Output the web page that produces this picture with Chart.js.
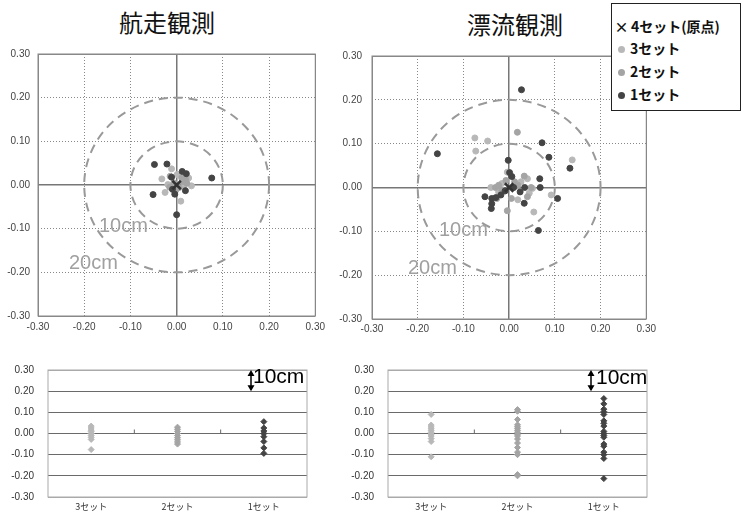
<!DOCTYPE html>
<html>
<head>
<meta charset="utf-8">
<script src="https://cdn.jsdelivr.net/npm/chart.js@4/dist/chart.umd.min.js"></script>
<style>
body { margin: 0; background: #fff; }
#wrap { position: relative; width: 743px; height: 517px; overflow: hidden; font-family: "Liberation Sans", Arial, sans-serif; }
canvas { position: absolute; }
.t { position: absolute; white-space: nowrap; line-height: 1; }
.title { font-family: "Noto Sans CJK JP", sans-serif; font-size: 24px; width: 140px; text-align: center; color: #111; }
.cm { font-size: 20px; color: #a0a0a0; }
.cm2 { font-size: 21px; color: #000; }
#legend { position: absolute; left: 611px; top: 3px; width: 128px; height: 106px; border: 1.5px solid #222; background: #fff; }
#legend .row { position: absolute; left: 0; height: 16px; line-height: 16px; font-family: "Noto Sans CJK JP", sans-serif; font-weight: bold; font-size: 14px; color: #111; white-space: nowrap; }
#legend .mk { display: inline-block; width: 7px; height: 7px; border-radius: 50%; margin: 0 5px 1px 6px; vertical-align: middle; }
</style>
</head>
<body>
<div id="wrap">
  <div class="t title" style="left:97px;top:10px">航走観測</div>
  <div class="t title" style="left:445px;top:12px">漂流観測</div>

  <canvas id="kouChart" width="330" height="300" style="left:0;top:40px;width:330px;height:300px"></canvas>
  <canvas id="hyoChart" width="330" height="300" style="left:330px;top:40px;width:330px;height:300px"></canvas>
  <canvas id="kouStrip" width="330" height="167" style="left:0;top:350px;width:330px;height:167px"></canvas>
  <canvas id="hyoStrip" width="340" height="167" style="left:340px;top:350px;width:340px;height:167px"></canvas>

  <div class="t cm" style="left:99px;top:215px">10cm</div>
  <div class="t cm" style="left:69px;top:252px">20cm</div>
  <div class="t cm" style="left:439px;top:219px">10cm</div>
  <div class="t cm" style="left:408px;top:257px">20cm</div>
  <div class="t cm2" style="left:253px;top:365px">10cm</div>
  <div class="t cm2" style="left:596px;top:366px">10cm</div>

  <div id="legend">
    <div class="row" style="top:14px"><span style="display:inline-block;width:19px;text-align:center;font-size:14px">×</span>4セット(原点)</div>
    <div class="row" style="top:36px"><span class="mk" style="background:#b8b8b8"></span>3セット</div>
    <div class="row" style="top:59px"><span class="mk" style="background:#a4a4a4"></span>2セット</div>
    <div class="row" style="top:82px"><span class="mk" style="background:#444"></span>1セット</div>
  </div>
</div>
<script>
// 航走観測 scatter (x, y offsets in m)
var kouX3 = [-0.032, -0.025, -0.011, 0.001, 0.026, 0.032, 0.009, -0.019, 0.016];
var kouY3 = [0.014, -0.017, 0.037, 0.024, 0.016, -0.002, -0.037, 0.001, -0.002];
var kouX2 = [-0.014, 0.011, 0.019, -0.006, 0.005, 0.013, -0.002, 0.022, -0.015];
var kouY2 = [0.020, 0.016, 0.013, 0.005, -0.006, 0.008, -0.012, 0.004, -0.005];
var kouX1 = [-0.048, -0.021, 0.012, 0.021, 0.076, -0.051, -0.004, 0.019, 0.000, -0.011, -0.009];
var kouY1 = [0.047, 0.048, 0.031, 0.026, 0.016, -0.022, -0.021, -0.013, -0.068, 0.018, -0.010];

// 漂流観測 scatter
var hyoX3 = [-0.075, -0.047, -0.073, 0.138, 0.054, 0.092, -0.040, -0.016, -0.004, 0.026, 0.040, 0.044, 0.019, -0.023, 0.051];
var hyoY3 = [0.113, 0.106, 0.083, 0.063, -0.056, -0.017, 0.000, 0.009, 0.035, 0.013, 0.020, -0.013, -0.028, -0.010, -0.002];
var hyoX2 = [0.018, -0.004, -0.030, -0.023, -0.007, 0.012, 0.019, 0.033, 0.048, 0.040, 0.005, -0.016, -0.027];
var hyoY2 = [0.126, -0.053, 0.000, 0.005, 0.016, 0.013, 0.005, 0.026, 0.000, -0.021, -0.025, -0.006, -0.025];
var hyoX1 = [0.027, -0.157, 0.072, 0.087, 0.133, -0.002, 0.001, 0.006, 0.067, 0.068, 0.106, 0.064, -0.053, -0.038, -0.029, -0.018, -0.038, -0.039, -0.009, 0.010, 0.024, 0.034, 0.033];
var hyoY1 = [0.223, 0.077, 0.102, 0.069, 0.044, 0.062, 0.034, 0.025, 0.020, 0.000, -0.025, -0.098, -0.021, -0.025, -0.023, -0.017, -0.037, -0.048, -0.008, 0.000, -0.010, 0.000, -0.036];

// strip charts
var setLabels = ['3セット', '2セット', '1セット'];
var kouStrip3 = [0.035, 0.026, 0.016, 0.009, 0.000, -0.009, -0.018, -0.028, -0.076];
var kouStrip2 = [0.030, 0.020, 0.010, 0.000, -0.010, -0.020, -0.030, -0.040, -0.050];
var kouStrip1 = [0.056, 0.026, 0.012, 0.000, -0.015, -0.038, -0.068, -0.094];
var hyoStrip3 = [0.090, 0.040, 0.031, 0.022, 0.013, 0.004, -0.003, -0.012, -0.024, -0.038, -0.110];
var hyoStrip2 = [0.113, 0.105, 0.066, 0.041, 0.032, 0.024, 0.015, 0.006, -0.003, -0.012, -0.026, -0.045, -0.066, -0.088, -0.100, -0.194, -0.200];
var hyoStrip1 = [0.165, 0.140, 0.115, 0.103, 0.090, 0.060, 0.048, 0.035, 0.010, 0.000, -0.009, -0.018, -0.050, -0.060, -0.088, -0.100, -0.118, -0.213];

var ringRadii = [0.1, 0.2];
var c3 = '#b8b8b8', c2 = '#a4a4a4', c1 = '#444';

function pts(xs, ys) {
  return xs.map(function (x, i) { return { x: x, y: ys[i] }; });
}
function stripPts(label, vals) {
  return vals.map(function (v) { return { x: label, y: v }; });
}
function isVal(c, v) { return c.tick && Math.abs(c.tick.value - v) < 1e-6; }
function isEdge(c) { return isVal(c, 0.3) || isVal(c, -0.3); }

var tickFont = { family: '"Liberation Sans", Arial, sans-serif', size: 10 };

// dashed 10cm/20cm rings + frame
var ringsPlugin = {
  id: 'rings',
  beforeDatasetsDraw: function (chart) {
    var ctx = chart.ctx, xs = chart.scales.x, ys = chart.scales.y, a = chart.chartArea;
    ctx.save();
    ctx.strokeStyle = '#888';
    ctx.lineWidth = 1;
    ctx.strokeRect(a.left, a.top, a.right - a.left, a.bottom - a.top);
    var cx = xs.getPixelForValue(0), cy = ys.getPixelForValue(0);
    ctx.strokeStyle = '#999';
    ctx.lineWidth = 2;
    ctx.setLineDash([9, 6]);
    ringRadii.forEach(function (r) {
      ctx.beginPath();
      ctx.ellipse(cx, cy, xs.getPixelForValue(r) - cx, cy - ys.getPixelForValue(r), 0, 0, Math.PI * 2);
      ctx.stroke();
    });
    ctx.restore();
  }
};

// frame, small category ticks and the 10cm arrow
var stripPlugin = {
  id: 'strip',
  beforeDatasetsDraw: function (chart) {
    var ctx = chart.ctx, ys = chart.scales.y, a = chart.chartArea;
    ctx.save();
    ctx.strokeStyle = '#aaa';
    ctx.lineWidth = 1;
    ctx.strokeRect(a.left, a.top, a.right - a.left, a.bottom - a.top);
    var y0 = ys.getPixelForValue(0), w = (a.right - a.left) / 3;
    ctx.strokeStyle = '#666';
    for (var i = 1; i < 3; i++) {
      ctx.beginPath();
      ctx.moveTo(a.left + i * w, y0 - 4);
      ctx.lineTo(a.left + i * w, y0);
      ctx.stroke();
    }
    ctx.restore();
  },
  afterDraw: function (chart) {
    var ctx = chart.ctx, ys = chart.scales.y, a = chart.chartArea;
    var x = a.right - 56, yt = ys.getPixelForValue(0.3), yb = ys.getPixelForValue(0.2);
    ctx.save();
    ctx.strokeStyle = '#000';
    ctx.fillStyle = '#000';
    ctx.lineWidth = 1.5;
    ctx.beginPath();
    ctx.moveTo(x, yt + 4);
    ctx.lineTo(x, yb - 4);
    ctx.stroke();
    ctx.beginPath();
    ctx.moveTo(x, yt); ctx.lineTo(x - 3.5, yt + 6); ctx.lineTo(x + 3.5, yt + 6); ctx.closePath();
    ctx.moveTo(x, yb); ctx.lineTo(x - 3.5, yb - 6); ctx.lineTo(x + 3.5, yb - 6); ctx.closePath();
    ctx.fill();
    ctx.restore();
  }
};

function scatterAxis(width, height, pad, isY) {
  return {
    type: 'linear', min: -0.3, max: 0.3,
    ticks: { stepSize: 0.1, padding: pad, color: '#444', font: tickFont, callback: function (v) { return v.toFixed(2); } },
    grid: {
      drawTicks: false,
      color: function (c) { return isVal(c, 0) ? '#777' : '#888'; },
      lineWidth: function (c) { return isVal(c, 0) ? 1.5 : 1; }
    },
    border: { display: false, dash: function (c) { return (c.tick && !isVal(c, 0) && !isEdge(c)) ? [1, 2] : []; } },
    afterFit: function (s) { if (isY) s.width = width; else s.height = height; }
  };
}

function makeScatter(id, d3, d2, d1, yW, xH, yPad, xPad, padR, padT) {
  return new Chart(document.getElementById(id), {
    type: 'scatter',
    data: {
      datasets: [
        { label: '4セット(原点)', data: [{ x: 0, y: 0 }], pointStyle: 'crossRot', radius: 6, borderColor: '#333', borderWidth: 2.5 },
        { label: '1セット', data: d1, backgroundColor: c1, borderColor: c1, radius: 3 },
        { label: '2セット', data: d2, backgroundColor: c2, borderColor: c2, radius: 3 },
        { label: '3セット', data: d3, backgroundColor: c3, borderColor: c3, radius: 3 }
      ]
    },
    options: {
      responsive: false, animation: false,
      layout: { padding: { left: 0, right: padR, top: padT, bottom: 0 } },
      plugins: { legend: { display: false }, tooltip: { enabled: false } },
      scales: { x: scatterAxis(0, xH, xPad, false), y: scatterAxis(yW, 0, yPad, true) }
    },
    plugins: [ringsPlugin]
  });
}

function makeStrip(id, s3, s2, s1, padR, padT, xH) {
  return new Chart(document.getElementById(id), {
    type: 'line',
    data: {
      labels: setLabels,
      datasets: [
        { label: '3セット', data: stripPts(setLabels[0], s3), showLine: false, pointStyle: 'rectRot', radius: 3, backgroundColor: c3, borderColor: c3 },
        { label: '2セット', data: stripPts(setLabels[1], s2), showLine: false, pointStyle: 'rectRot', radius: 3, backgroundColor: c2, borderColor: c2 },
        { label: '1セット', data: stripPts(setLabels[2], s1), showLine: false, pointStyle: 'rectRot', radius: 3, backgroundColor: c1, borderColor: c1 }
      ]
    },
    options: {
      responsive: false, animation: false,
      layout: { padding: { left: 0, right: padR, top: padT, bottom: 0 } },
      plugins: { legend: { display: false }, tooltip: { enabled: false } },
      scales: {
        x: {
          type: 'category', offset: true,
          grid: { display: false, drawTicks: false }, border: { display: false },
          ticks: { padding: 5, color: '#333', font: { family: '"Noto Sans CJK JP", sans-serif', size: 9, lineHeight: 1 } },
          afterFit: function (s) { s.height = xH; }
        },
        y: {
          min: -0.3, max: 0.3,
          ticks: { stepSize: 0.1, padding: 14, color: '#333', font: tickFont, callback: function (v) { return v.toFixed(2); } },
          grid: { drawTicks: false, color: function (c) { return isEdge(c) ? '#aaa' : '#6a6a6a'; } },
          border: { display: false },
          afterFit: function (s) { s.width = 48; }
        }
      }
    },
    plugins: [stripPlugin]
  });
}

makeScatter('kouChart', pts(kouX3, kouY3), pts(kouX2, kouY2), pts(kouX1, kouY1), 38, 24, 8, 5, 10, 9);
makeScatter('hyoChart', pts(hyoX3, hyoY3), pts(hyoX2, hyoY2), pts(hyoX1, hyoY1), 42, 21, 10, 4, 6, 11);
makeStrip('kouStrip', kouStrip3, kouStrip2, kouStrip1, 23, 15, 16);
makeStrip('hyoStrip', hyoStrip3, hyoStrip2, hyoStrip1, 33, 16, 15);
</script>
</body>
</html>
